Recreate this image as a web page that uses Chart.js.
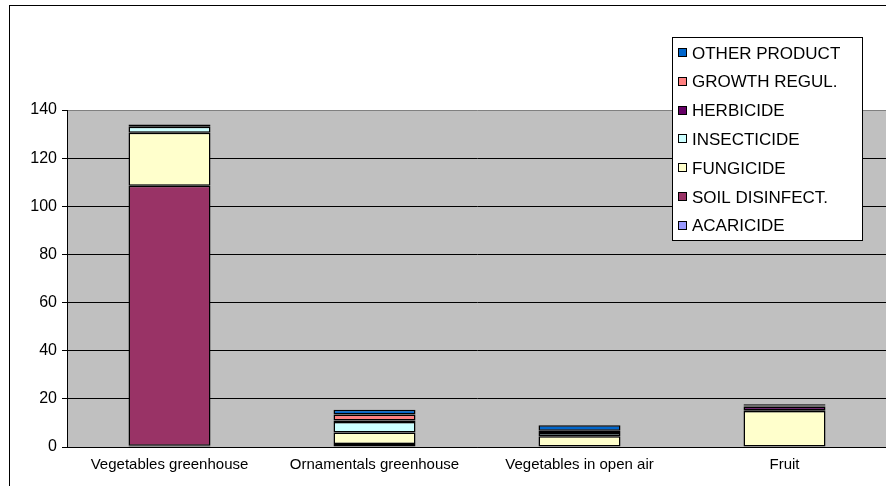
<!DOCTYPE html>
<html>
<head>
<meta charset="utf-8">
<script src="https://cdn.jsdelivr.net/npm/chart.js@4/dist/chart.umd.min.js"></script>
<style>
    html, body { margin: 0; padding: 0; background: #fff; overflow: hidden; }
    #wrap { position: relative; width: 895px; height: 500px; }
</style>
</head>
<body>
<div id="wrap"><canvas id="usageChart" width="895" height="500"></canvas></div>
<script>
const categories = ['Vegetables greenhouse', 'Ornamentals greenhouse', 'Vegetables in open air', 'Fruit']
const yTicks = [0, 20, 40, 60, 80, 100, 120, 140]

// stacked from the bottom up
const acaricide      = [0.5, 1.2, null, null]
const soilDisinfect  = [108, null, null, null]
const fungicide      = [22, 4.8, 4.5, 15]
const insecticide    = [2.5, 4.4, 1.3, 0.3]
const herbicide      = [0.8, 0.6, 0.9, 1.5]
const growthRegul    = [null, 2.5, null, 0.4]
const otherProduct   = [0.2, 2.0, 2.3, 0.6]

const FONT = '"Liberation Sans", Arial, sans-serif'

const serie = (label, data, color) => ({
    label: label,
    data: data,
    backgroundColor: color,
    borderColor: '#000',
    borderWidth: 1.5,
    borderSkipped: false,
    barPercentage: 0.4,
    categoryPercentage: 1,
})

// outer frame, grey plot background and the boxed legend
const marco = {
    id: 'marco',
    beforeDraw(chart) {
        const { ctx, chartArea: a } = chart
        ctx.save()
        ctx.fillStyle = '#fff'
        ctx.fillRect(0, 0, chart.width, chart.height)
        ctx.strokeStyle = '#000'
        ctx.lineWidth = 1
        ctx.strokeRect(9.5, 5.5, chart.width + 20, chart.height + 20)
        ctx.fillStyle = '#c0c0c0'
        ctx.fillRect(a.left, a.top, a.right - a.left, a.bottom - a.top)
        ctx.restore()
    },
    afterDraw(chart) {
        const { ctx } = chart
        const x = 672.5, y = 37.5, w = 190, h = 203
        ctx.save()
        ctx.fillStyle = '#fff'
        ctx.fillRect(x, y, w, h)
        ctx.strokeStyle = '#000'
        ctx.lineWidth = 1
        ctx.strokeRect(x, y, w, h)
        ctx.font = '17px ' + FONT
        ctx.textBaseline = 'middle'
        const sets = chart.data.datasets.slice().reverse()
        sets.forEach((ds, i) => {
            const cy = 53 + i * 28.8
            ctx.fillStyle = ds.backgroundColor
            ctx.fillRect(678.5, Math.round(cy) - 4.5, 8, 8)
            ctx.strokeRect(678.5, Math.round(cy) - 4.5, 8, 8)
            ctx.fillStyle = '#000'
            ctx.fillText(ds.label, 692, cy + 1)
        })
        ctx.restore()
    }
}

new Chart(document.getElementById('usageChart'), {
    type: 'bar',
    data: {
        labels: categories,
        datasets: [
            serie('ACARICIDE', acaricide, '#9999ff'),
            serie('SOIL DISINFECT.', soilDisinfect, '#993366'),
            serie('FUNGICIDE', fungicide, '#ffffcc'),
            serie('INSECTICIDE', insecticide, '#ccffff'),
            serie('HERBICIDE', herbicide, '#660066'),
            serie('GROWTH REGUL.', growthRegul, '#ff8080'),
            serie('OTHER PRODUCT', otherProduct, '#0066cc'),
        ]
    },
    options: {
        responsive: false,
        animation: false,
        layout: { padding: { top: 110, right: 8, left: 0, bottom: 0 } },
        plugins: {
            legend: { display: false },
            tooltip: { enabled: false },
        },
        scales: {
            x: {
                stacked: true,
                afterFit: s => { s.height = 500 - 447 },
                grid: { display: false, drawTicks: false },
                border: { color: '#000', width: 1 },
                ticks: { color: '#000', padding: 9, font: { family: FONT, size: 15 }, maxRotation: 0 },
            },
            y: {
                stacked: true,
                min: 0,
                max: 140,
                afterFit: s => { s.width = 67 },
                afterBuildTicks: s => { s.ticks = yTicks.map(v => ({ value: v })) },
                grid: {
                    color: c => c.tick && c.tick.value === 140 ? '#808080' : '#000',
                    tickLength: 5,
                    tickColor: '#000',
                },
                border: { color: '#000', width: 1 },
                ticks: { color: '#000', padding: 5, font: { family: FONT, size: 16 } },
            }
        }
    },
    plugins: [marco]
})
</script>
</body>
</html>
